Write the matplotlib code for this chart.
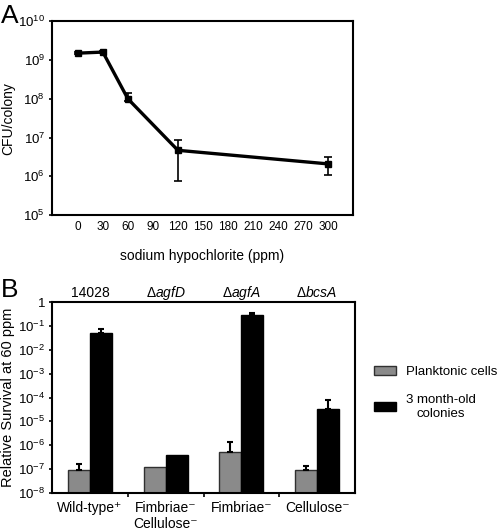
import numpy as np
import matplotlib.pyplot as plt
from matplotlib.ticker import FixedLocator, NullLocator

plt.rcParams['font.family'] = ['Liberation Sans', 'DejaVu Sans']
plt.rcParams['mathtext.fontset'] = 'custom'
plt.rcParams['mathtext.rm'] = 'Liberation Sans'
plt.rcParams['mathtext.it'] = 'Liberation Sans:italic'

## Panel A data ##
conc = [0, 30, 60, 120, 300]
cfu = [1.5e9, 1.6e9, 1.0e8, 4.7e6, 2.1e6]
cfu_lo = [1.4e9, 1.5e9, 8.7e7, 7.6e5, 1.07e6]
cfu_hi = [1.6e9, 1.7e9, 1.4e8, 8.5e6, 3.2e6]

## Panel B data ##
strains = ['14028', r'$\Delta\it{agfD}$', r'$\Delta\it{agfA}$', r'$\Delta\it{bcsA}$']
phenotypes = ['Wild-type\u207a', 'Fimbriae\u207b\nCellulose\u207b', 'Fimbriae\u207b', 'Cellulose\u207b']
planktonic = [9e-8, 1.2e-7, 5.3e-7, 9e-8]
planktonic_top = [1.6e-7, np.nan, 1.4e-6, 1.3e-7]
colonies = [4.9e-2, 4.0e-7, 0.29, 3.3e-5]
colonies_top = [7.4e-2, np.nan, 0.34, 7.7e-5]

fig = plt.figure(figsize=(5, 5.3), dpi=100)

### Panel A ###
axA = fig.add_axes([0.104, 0.594, 0.602, 0.366])
yerr = [np.array(cfu) - np.array(cfu_lo), np.array(cfu_hi) - np.array(cfu)]
axA.errorbar(conc, cfu, yerr=yerr, color='black', lw=2.4, marker='s', ms=4,
             elinewidth=1.2, capsize=3, capthick=1.2)
axA.set_yscale('log')
axA.set_ylim(1e5, 1e10)
axA.set_xlim(-31, 330)
axA.set_xticks(np.arange(0, 301, 30))
axA.yaxis.set_major_locator(FixedLocator([1e5, 1e6, 1e7, 1e8, 1e9, 1e10]))
axA.yaxis.set_minor_locator(NullLocator())
axA.tick_params(axis='x', labelsize=8.5, length=0, pad=4)
axA.tick_params(axis='y', labelsize=9.5, length=2, width=1.2, pad=3)
axA.set_yticklabels([r'$10^{%d}$' % k for k in range(5, 11)])
for s in axA.spines.values():
    s.set_linewidth(1.5)
axA.set_xlabel('sodium hypochlorite (ppm)', fontsize=10, labelpad=12)
axA.set_ylabel('CFU/colony', fontsize=10)
axA.yaxis.set_label_coords(-0.122, 0.5)
fig.text(0.002, 1 - 23/530, 'A', fontsize=19, va='baseline', ha='left')

### Panel B ###
axB = fig.add_axes([0.104, 0.070, 0.606, 0.360])
x = np.arange(len(strains))
w = 0.29
axB.bar(x - w/2, planktonic, width=w, color='#8a8a8a', edgecolor='#303030', lw=1, log=True,
        label='Planktonic cells')
axB.bar(x + w/2, colonies, width=w, color='black', edgecolor='black', lw=1, log=True,
        label='3 month-old\ncolonies')
for xs, val, top in [(x - w/2, planktonic, planktonic_top), (x + w/2, colonies, colonies_top)]:
    val = np.array(val)
    top = np.array(top)
    m = ~np.isnan(top)
    axB.errorbar(xs[m], val[m], yerr=[np.zeros(m.sum()), top[m] - val[m]], fmt='none',
                 ecolor='black', elinewidth=1.5, capsize=2.5, capthick=1.5)
axB.set_yscale('log')
axB.set_ylim(1e-8, 1)
axB.set_xlim(-0.5, 3.5)
axB.yaxis.set_major_locator(FixedLocator([10.0 ** k for k in range(-8, 1)]))
axB.yaxis.set_minor_locator(NullLocator())
axB.set_yticklabels([r'$10^{%d}$' % k for k in range(-8, 0)] + ['1'])
axB.set_xticks(x)
axB.set_xticklabels(phenotypes, fontsize=10)
axB.xaxis.set_minor_locator(FixedLocator([0.5, 1.5, 2.5]))
axB.tick_params(axis='x', which='major', length=0, pad=6)
axB.tick_params(axis='x', which='minor', length=3, width=1.2)
axB.tick_params(axis='y', labelsize=9.5, length=2, width=1.2, pad=3)
for s in axB.spines.values():
    s.set_linewidth(1.5)
axB.set_ylabel('Relative Survival at 60 ppm', fontsize=10.5)
axB.yaxis.set_label_coords(-0.122, 0.5)
for xi, name in zip(x, strains):
    axB.text(xi, 1.026, name, transform=axB.get_xaxis_transform(), ha='center', va='baseline',
             fontsize=10)
fig.text(0.002, 1 - 297/530, 'B', fontsize=19, va='baseline', ha='left')

leg = fig.legend(*axB.get_legend_handles_labels(), loc='upper left',
                 bbox_to_anchor=(0.748, 1 - 366/530), frameon=False, fontsize=9.5,
                 handlelength=1.7, handleheight=0.7, labelspacing=1.2, handletextpad=0.7,
                 borderpad=0, borderaxespad=0)
for t in leg.get_texts():
    t.set_multialignment('center')

fig.savefig('out.png', dpi=100)
